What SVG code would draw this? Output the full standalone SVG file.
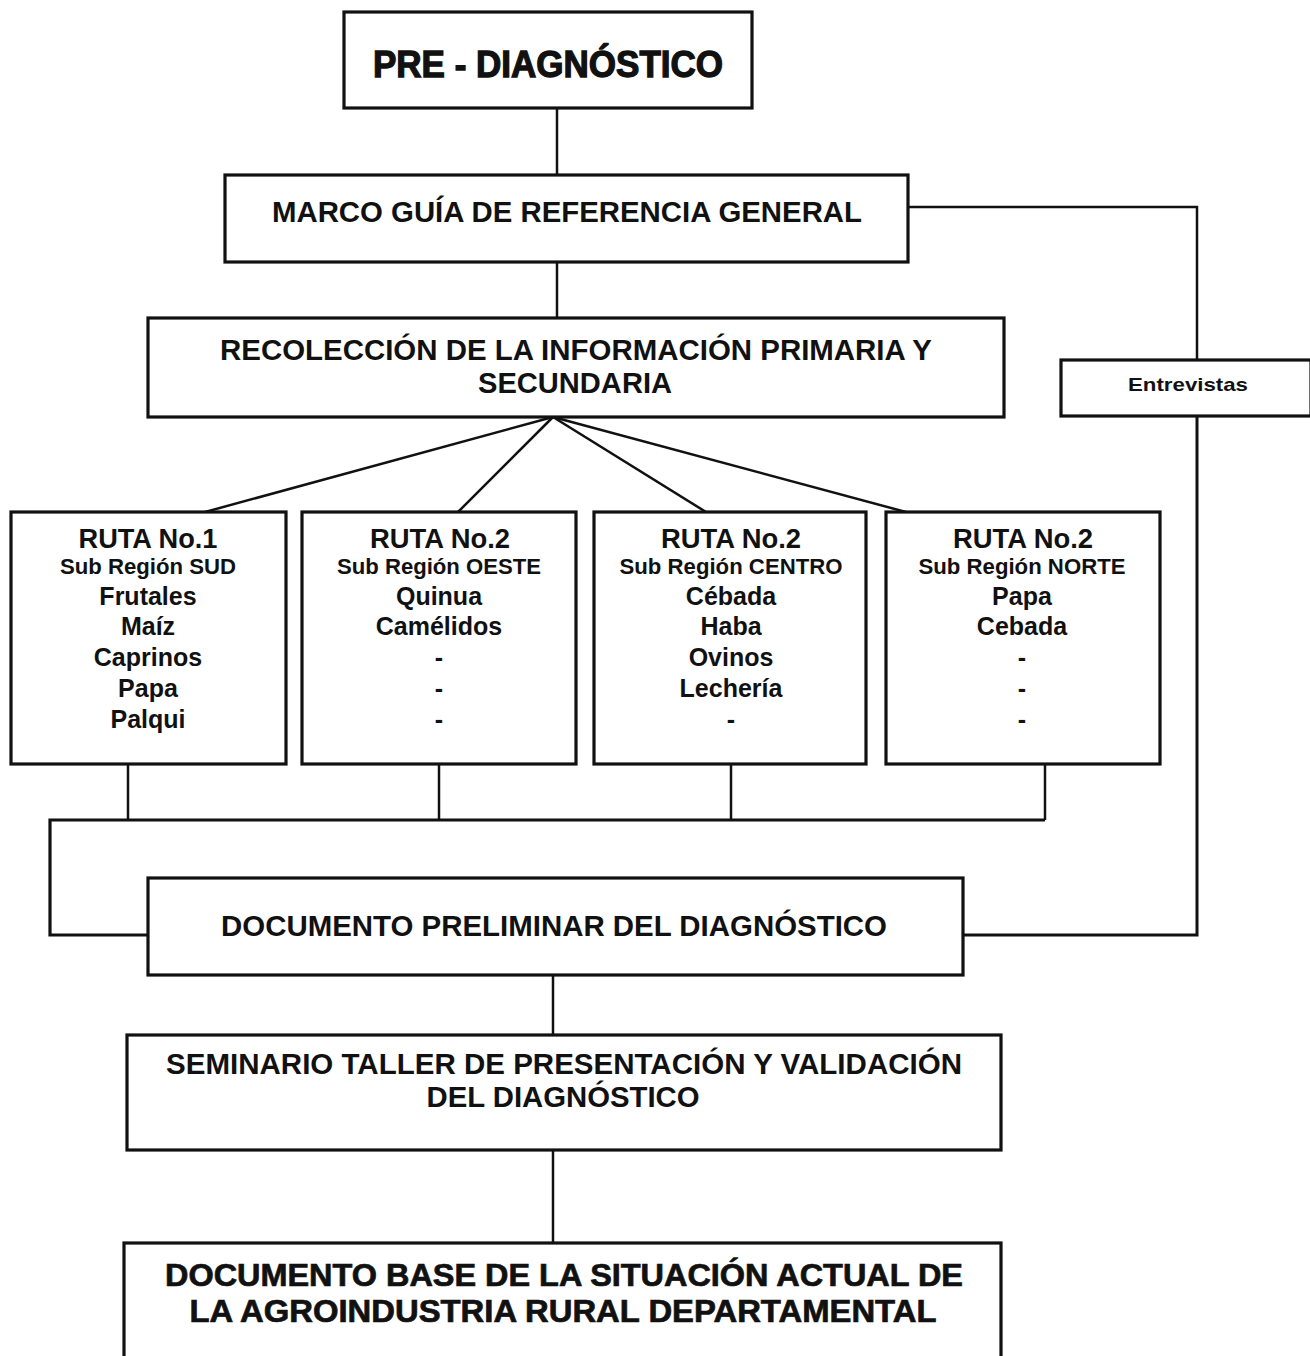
<svg xmlns="http://www.w3.org/2000/svg" width="1310" height="1356" viewBox="0 0 1310 1356">
<style>
.box{fill:#fff;stroke:#111;stroke-width:3.2}
.c{fill:none;stroke:#111;stroke-width:2.5}
text{font-family:"Liberation Sans",Arial,sans-serif;fill:#111;text-anchor:middle;font-weight:bold}
.big{font-size:29px}
.title{font-size:37px;stroke:#111;stroke-width:1.3}
.heavy{font-size:31px;stroke:#111;stroke-width:0.7}
.ruta{font-size:27px}
.sub{font-size:22px}
.item{font-size:25px}
.ent{font-size:19px}
</style>
<rect width="1310" height="1356" fill="#fff"/>
<g id="connectors">
<line class="c" x1="557" y1="108" x2="557" y2="175"/>
<polyline class="c" points="908,207 1197,207 1197,360"/>
<line class="c" x1="557" y1="262" x2="557" y2="318"/>
<line class="c" x1="553" y1="417" x2="205" y2="512"/>
<line class="c" x1="553" y1="417" x2="458" y2="512"/>
<line class="c" x1="553" y1="417" x2="706" y2="512"/>
<line class="c" x1="553" y1="417" x2="906" y2="512"/>
<line class="c" x1="128" y1="764" x2="128" y2="820"/>
<line class="c" x1="439" y1="764" x2="439" y2="820"/>
<line class="c" x1="731" y1="764" x2="731" y2="820"/>
<line class="c" x1="1045" y1="764" x2="1045" y2="820"/>
<polyline class="c" style="stroke-width:3.2" points="1045,820 50,820 50,935 148,935"/>
<polyline class="c" style="stroke-width:3" points="1197,416 1197,935 963,935"/>
<line class="c" x1="553" y1="975" x2="553" y2="1035"/>
<line class="c" x1="553" y1="1150" x2="553" y2="1243"/>
</g>
<g id="pre-diagnostico">
<rect class="box" x="344" y="12" width="408" height="96"/>
<text class="title" x="548" y="77" textLength="350" lengthAdjust="spacingAndGlyphs">PRE - DIAGNÓSTICO</text>
</g>
<g id="marco">
<rect class="box" x="225" y="175" width="683" height="87"/>
<text class="big" x="567" y="222" textLength="590" lengthAdjust="spacingAndGlyphs">MARCO GUÍA DE REFERENCIA GENERAL</text>
</g>
<g id="entrevistas">
<rect class="box" x="1061" y="360" width="250" height="56"/>
<text class="ent" x="1188" y="391" textLength="120" lengthAdjust="spacingAndGlyphs">Entrevistas</text>
</g>
<g id="recoleccion">
<rect class="box" x="148" y="318" width="856" height="99"/>
<text class="big" x="576" y="360" textLength="712" lengthAdjust="spacingAndGlyphs">RECOLECCIÓN DE LA INFORMACIÓN PRIMARIA Y</text>
<text class="big" x="575" y="393" textLength="194" lengthAdjust="spacingAndGlyphs">SECUNDARIA</text>
</g>
<g id="ruta1">
<rect class="box" x="11" y="512" width="275" height="252"/>
<text class="ruta" x="148" y="548" textLength="139" lengthAdjust="spacingAndGlyphs">RUTA No.1</text>
<text class="sub" x="148" y="574" textLength="176" lengthAdjust="spacingAndGlyphs">Sub Región SUD</text>
<text class="item" x="148" y="605">Frutales</text>
<text class="item" x="148" y="635">Maíz</text>
<text class="item" x="148" y="666">Caprinos</text>
<text class="item" x="148" y="697">Papa</text>
<text class="item" x="148" y="728">Palqui</text>
</g>
<g id="ruta2-oeste">
<rect class="box" x="302" y="512" width="274" height="252"/>
<text class="ruta" x="440" y="548" textLength="140" lengthAdjust="spacingAndGlyphs">RUTA No.2</text>
<text class="sub" x="439" y="574" textLength="204" lengthAdjust="spacingAndGlyphs">Sub Región OESTE</text>
<text class="item" x="439" y="605">Quinua</text>
<text class="item" x="439" y="635">Camélidos</text>
<text class="item" x="439" y="666">-</text>
<text class="item" x="439" y="697">-</text>
<text class="item" x="439" y="728">-</text>
</g>
<g id="ruta2-centro">
<rect class="box" x="594" y="512" width="272" height="252"/>
<text class="ruta" x="731" y="548" textLength="140" lengthAdjust="spacingAndGlyphs">RUTA No.2</text>
<text class="sub" x="731" y="574" textLength="223" lengthAdjust="spacingAndGlyphs">Sub Región CENTRO</text>
<text class="item" x="731" y="605">Cébada</text>
<text class="item" x="731" y="635">Haba</text>
<text class="item" x="731" y="666">Ovinos</text>
<text class="item" x="731" y="697">Lechería</text>
<text class="item" x="731" y="728">-</text>
</g>
<g id="ruta2-norte">
<rect class="box" x="886" y="512" width="274" height="252"/>
<text class="ruta" x="1023" y="548" textLength="140" lengthAdjust="spacingAndGlyphs">RUTA No.2</text>
<text class="sub" x="1022" y="574" textLength="207" lengthAdjust="spacingAndGlyphs">Sub Región NORTE</text>
<text class="item" x="1022" y="605">Papa</text>
<text class="item" x="1022" y="635">Cebada</text>
<text class="item" x="1022" y="666">-</text>
<text class="item" x="1022" y="697">-</text>
<text class="item" x="1022" y="728">-</text>
</g>
<g id="documento-preliminar">
<rect class="box" x="148" y="878" width="815" height="97"/>
<text class="big" x="554" y="936" textLength="666" lengthAdjust="spacingAndGlyphs">DOCUMENTO PRELIMINAR DEL DIAGNÓSTICO</text>
</g>
<g id="seminario">
<rect class="box" x="127" y="1035" width="874" height="115"/>
<text class="big" x="564" y="1074" textLength="796" lengthAdjust="spacingAndGlyphs">SEMINARIO TALLER DE PRESENTACIÓN Y VALIDACIÓN</text>
<text class="big" x="563" y="1107" textLength="273" lengthAdjust="spacingAndGlyphs">DEL DIAGNÓSTICO</text>
</g>
<g id="documento-base">
<rect class="box" x="124" y="1243" width="877" height="130"/>
<text class="heavy" x="564" y="1286" textLength="798" lengthAdjust="spacingAndGlyphs">DOCUMENTO BASE DE LA SITUACIÓN ACTUAL DE</text>
<text class="heavy" x="563" y="1322" textLength="747" lengthAdjust="spacingAndGlyphs">LA AGROINDUSTRIA RURAL DEPARTAMENTAL</text>
</g>
</svg>
